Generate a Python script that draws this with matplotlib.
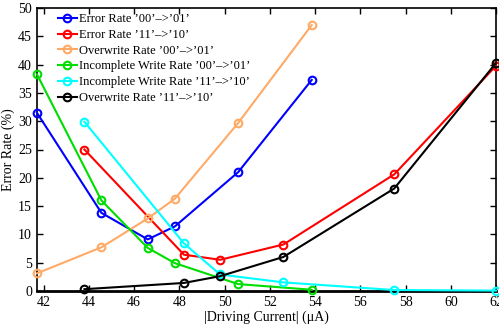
import numpy as np
import matplotlib
matplotlib.use("Agg")
import matplotlib.pyplot as plt

plt.rcParams['font.family'] = ['Liberation Serif', 'DejaVu Serif']
plt.rcParams['mathtext.fontset'] = 'stix'

#### data
x_a = [41.7, 44.55, 46.6, 47.8, 50.6, 53.85]
x_b = [43.8, 48.2, 49.8, 52.6, 57.5, 62.0]

err_00_01 = [31.5, 13.8, 9.1, 11.4, 21.0, 37.3]
err_11_10 = [25.0, 6.4, 5.5, 8.2, 20.6, 39.8]
ovw_00_01 = [3.1, 7.7, 12.8, 16.3, 29.7, 47.0]
inc_00_01 = [38.3, 16.0, 7.6, 4.9, 1.2, 0.2]
inc_11_10 = [29.9, 8.4, 2.9, 1.5, 0.15, 0.05]
ovw_11_10 = [0.3, 1.4, 2.6, 6.0, 18.1, 40.3]

series = [
    (x_a, err_00_01, 'blue', "Error Rate \u201900\u2019\u2013>\u201901\u2019"),
    (x_b, err_11_10, 'red', "Error Rate \u201911\u2019\u2013>\u201910\u2019"),
    (x_a, ovw_00_01, '#ffaa66', "Overwrite Rate \u201900\u2019\u2013>\u201901\u2019"),
    (x_a, inc_00_01, '#00dd00', "Incomplete Write Rate \u201900\u2019\u2013>\u201901\u2019"),
    (x_b, inc_11_10, 'cyan', "Incomplete Write Rate \u201911\u2019\u2013>\u201910\u2019"),
    (x_b, ovw_11_10, 'black', "Overwrite Rate \u201911\u2019\u2013>\u201910\u2019"),
]

fig = plt.figure(figsize=(4.99, 3.25), dpi=100)
ax = fig.add_axes([0.074, 0.105, 0.92, 0.87])

for xs, ys, c, lab in series:
    ax.plot(xs, ys, color=c, lw=1.5, marker='o', ms=5.5, mfc='none',
            mec=c, mew=1.5, label=lab, clip_on=False, zorder=3)

ax.set_xlim(41.7, 62)
ax.set_ylim(0, 50)
ax.set_xticks(np.arange(42, 63, 2))
ax.set_yticks(np.arange(0, 51, 5))
ax.tick_params(direction='in', top=True, right=True, labelsize=10, length=4, width=1)
for s in ax.spines.values():
    s.set_linewidth(1.2)
ax.spines['bottom'].set_linewidth(2)

ax.set_xlabel("|Driving Current| (\u03bcA)", fontsize=10, labelpad=1)
ax.set_ylabel("Error Rate (%)", fontsize=10, labelpad=2)

ax.legend(loc='upper left', frameon=False, fontsize=9, handlelength=1.5,
          handletextpad=0.2, labelspacing=0.3, borderaxespad=0.0,
          bbox_to_anchor=(0.035, 1.0))

fig.savefig("out.png", dpi=100)
